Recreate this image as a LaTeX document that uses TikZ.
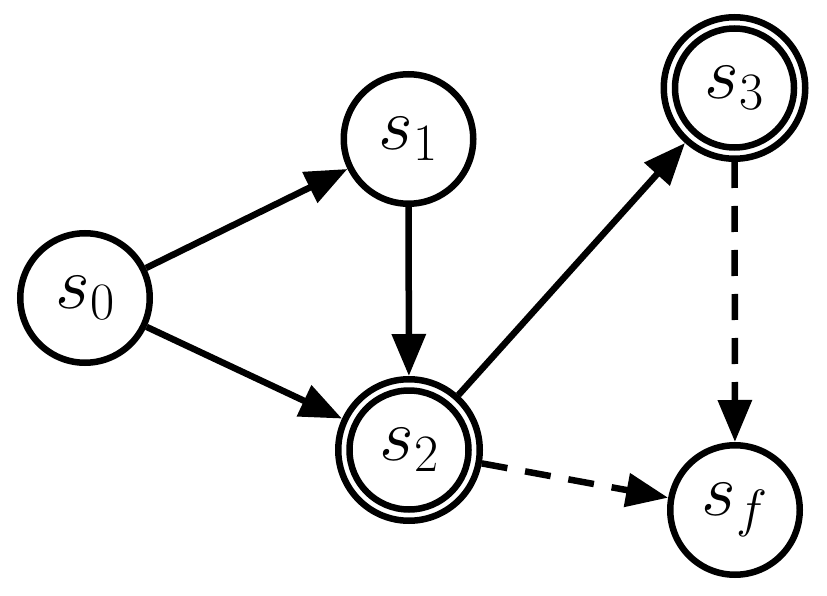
\RequirePackage{fix-cm}
\documentclass[tikz,border=0pt]{standalone}
\usetikzlibrary{arrows.meta}
\tikzset{
  state/.style={circle,draw,line width=6.5pt,minimum size=129.5pt,inner sep=0pt,
    font=\fontsize{75}{90}\selectfont},
  accstate/.style={state,minimum size=141.5pt},
  edge/.style={line width=6.5pt,-{Triangle[length=42pt,width=33pt]}},
  dashededge/.style={edge,dash pattern=on 26pt off 18pt},
}
\begin{document}
\begin{tikzpicture}[x=1pt,y=-1pt]
\useasboundingbox (0,0) rectangle (827,596);
\node[state] (s0) at (85,298) {$s_0$};
\node[state] (s1) at (408.5,139) {$s_1$};
\node[accstate] (s2) at (409,450) {$s_2$};
\node[accstate] (s3) at (734.5,88) {$s_3$};
\node[state] (sf) at (735,510) {$s_f$};
\draw[line width=6.5pt] (s2.center) circle (59.5pt);
\draw[line width=6.5pt] (s3.center) circle (59.5pt);
\draw[edge] (s0) -- (s1);
\draw[edge] (s0) -- (s2);
\draw[edge] (s1) -- (s2);
\draw[edge] (s2) -- (s3);
\draw[dashededge] (s3) -- (sf);
\draw[dashededge] (s2) -- (sf);
\end{tikzpicture}
\end{document}
